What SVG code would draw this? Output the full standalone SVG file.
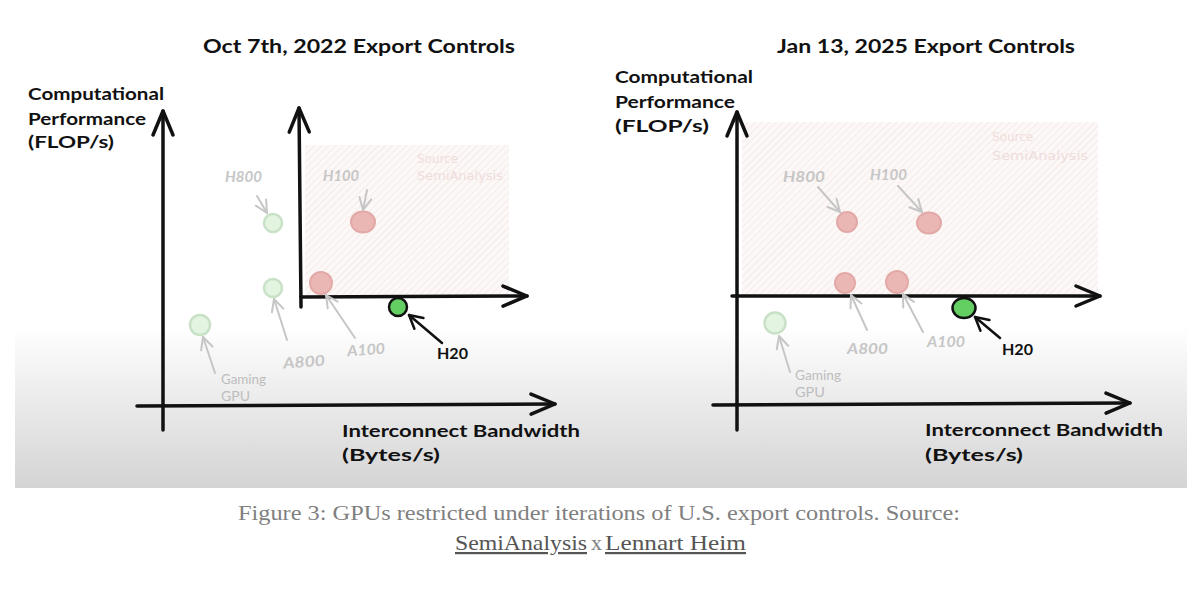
<svg xmlns="http://www.w3.org/2000/svg" width="1199" height="590" viewBox="0 0 1199 590">
  <defs>
    <linearGradient id="band" x1="0" y1="0" x2="0" y2="1">
      <stop offset="0" stop-color="#ffffff"/>
      <stop offset="0.12" stop-color="#f9f9f9"/>
      <stop offset="1" stop-color="#d4d4d4"/>
    </linearGradient>
    <pattern id="hatch" patternUnits="userSpaceOnUse" width="5" height="5" patternTransform="rotate(45)">
      <rect width="5" height="5" fill="#fcf8f7"/>
      <line x1="0" y1="0" x2="0" y2="5" stroke="#f3e8e6" stroke-width="1.6"/>
    </pattern>
    <marker id="axisHead" markerUnits="userSpaceOnUse" orient="auto" markerWidth="40" markerHeight="40" refX="0" refY="0" viewBox="-30 -20 40 40" overflow="visible">
      <path d="M -24 -10 L 0 0 L -24 10" fill="none" stroke="#111" stroke-width="3.5" stroke-linecap="round" stroke-linejoin="round"/>
    </marker>
    <marker id="grayHead" markerUnits="userSpaceOnUse" orient="auto" markerWidth="30" markerHeight="30" refX="0" refY="0" viewBox="-20 -15 30 30" overflow="visible">
      <path d="M -12 -6 L 0 0 L -12 6" fill="none" stroke="#c6c6c6" stroke-width="2" stroke-linecap="round" stroke-linejoin="round"/>
    </marker>
    <marker id="blackHead" markerUnits="userSpaceOnUse" orient="auto" markerWidth="30" markerHeight="30" refX="0" refY="0" viewBox="-20 -15 30 30" overflow="visible">
      <path d="M -13 -7 L 0 0 L -13 7" fill="none" stroke="#111" stroke-width="2.5" stroke-linecap="round" stroke-linejoin="round"/>
    </marker>
  </defs>
  <style>
    .hand { font-family: Lato, "Liberation Sans", sans-serif; font-weight: bold; fill: #111; }
    .title { font-size: 19px; }
    .axlab { font-size: 17px; }
    .glab { font-family: Lato, "Liberation Sans", sans-serif; font-style: italic; font-weight: bold; font-size: 15px; fill: #c6c6c6; }
    .small { font-family: Lato, "Liberation Sans", sans-serif; font-size: 13px; fill: #bdbdbd; }
    .src { font-family: "DejaVu Sans", sans-serif; font-size: 12px; fill: #efdddb; }
    .axis { stroke: #111; stroke-width: 3.5; stroke-linecap: round; fill: none; }
    .garrow { stroke: #c6c6c6; stroke-width: 2; fill: none; stroke-linecap: round; }
    .barrow { stroke: #111; stroke-width: 2.5; fill: none; stroke-linecap: round; }
    .red { fill: #ebb7b5; stroke: #e2a9a7; stroke-width: 2; }
    .green { fill: #e3f4e1; stroke: #c9e1c6; stroke-width: 2.5; }
    .h20 { fill: #63cf63; stroke: #111; stroke-width: 2.5; }
    .cap { font-family: "Liberation Serif", serif; font-size: 22px; fill: #808080; }
    .link { fill: #555; text-decoration: underline; }
  </style>

  <rect width="1199" height="590" fill="#ffffff"/>
  <rect x="15" y="328" width="1172" height="160" fill="url(#band)"/>

  <!-- regions -->
  <rect id="region-left" x="305" y="145" width="204" height="150" fill="url(#hatch)"/>
  <rect id="region-right" x="742" y="122" width="356" height="172" fill="url(#hatch)"/>

  <!-- titles & axis labels -->
  <g id="left-titles">
    <text class="hand title" x="203" y="53" textLength="312" lengthAdjust="spacingAndGlyphs">Oct 7th, 2022 Export Controls</text>
    <text class="hand axlab" x="28" y="100" textLength="136" lengthAdjust="spacingAndGlyphs">Computational</text>
    <text class="hand axlab" x="28" y="125" textLength="118" lengthAdjust="spacingAndGlyphs">Performance</text>
    <text class="hand axlab" x="28" y="148" textLength="86" lengthAdjust="spacingAndGlyphs">(FLOP/s)</text>
    <text class="hand axlab" x="342" y="437" textLength="238" lengthAdjust="spacingAndGlyphs">Interconnect Bandwidth</text>
    <text class="hand axlab" x="342" y="461" textLength="98" lengthAdjust="spacingAndGlyphs">(Bytes/s)</text>
    <text class="src" x="417" y="163">Source</text>
    <text class="src" x="417" y="180" textLength="86" lengthAdjust="spacingAndGlyphs">SemiAnalysis</text>
  </g>
  <g id="right-titles">
    <text class="hand title" x="777" y="53" textLength="298" lengthAdjust="spacingAndGlyphs">Jan 13, 2025 Export Controls</text>
    <text class="hand axlab" x="615" y="83" textLength="138" lengthAdjust="spacingAndGlyphs">Computational</text>
    <text class="hand axlab" x="615" y="108" textLength="120" lengthAdjust="spacingAndGlyphs">Performance</text>
    <text class="hand axlab" x="615" y="132" textLength="94" lengthAdjust="spacingAndGlyphs">(FLOP/s)</text>
    <text class="hand axlab" x="925" y="436" textLength="238" lengthAdjust="spacingAndGlyphs">Interconnect Bandwidth</text>
    <text class="hand axlab" x="925" y="461" textLength="98" lengthAdjust="spacingAndGlyphs">(Bytes/s)</text>
    <text class="src" x="992" y="141" font-size="13">Source</text>
    <text class="src" x="992" y="160" font-size="13" textLength="96" lengthAdjust="spacingAndGlyphs">SemiAnalysis</text>
  </g>

  <!-- axes -->
  <g id="axes">
    <line class="axis" x1="163" y1="430" x2="163" y2="111" marker-end="url(#axisHead)"/>
    <line class="axis" x1="137" y1="406" x2="555" y2="404" marker-end="url(#axisHead)"/>
    <line class="axis" x1="301" y1="307" x2="299" y2="108" marker-end="url(#axisHead)"/>
    <line class="axis" x1="301" y1="297" x2="527" y2="296" marker-end="url(#axisHead)"/>
    <line class="axis" x1="737" y1="430" x2="737" y2="112" marker-end="url(#axisHead)"/>
    <line class="axis" x1="713" y1="405" x2="1130" y2="403" marker-end="url(#axisHead)"/>
    <line class="axis" x1="732" y1="296" x2="1100" y2="296" marker-end="url(#axisHead)"/>
  </g>

  <!-- connectors (label arrows) -->
  <g id="connectors">
    <line class="garrow" x1="257" y1="196" x2="267" y2="213" marker-end="url(#grayHead)"/>
    <line class="garrow" x1="367" y1="190" x2="363" y2="210" marker-end="url(#grayHead)"/>
    <line class="garrow" x1="287" y1="340" x2="274" y2="299" marker-end="url(#grayHead)"/>
    <line class="garrow" x1="355" y1="338" x2="326" y2="295" marker-end="url(#grayHead)"/>
    <line class="garrow" x1="215" y1="373" x2="203" y2="337" marker-end="url(#grayHead)"/>
    <line class="barrow" x1="442" y1="343" x2="409" y2="315" marker-end="url(#blackHead)"/>

    <line class="garrow" x1="818" y1="187" x2="840" y2="212" marker-end="url(#grayHead)"/>
    <line class="garrow" x1="898" y1="186" x2="922" y2="212" marker-end="url(#grayHead)"/>
    <line class="garrow" x1="867" y1="330" x2="851" y2="295" marker-end="url(#grayHead)"/>
    <line class="garrow" x1="923" y1="332" x2="903" y2="294" marker-end="url(#grayHead)"/>
    <line class="garrow" x1="790" y1="372" x2="779" y2="336" marker-end="url(#grayHead)"/>
    <line class="barrow" x1="1000" y1="338" x2="975" y2="317" marker-end="url(#blackHead)"/>
  </g>

  <!-- left chart nodes -->
  <g id="l-h800"><circle class="green" cx="273" cy="223" r="9"/><text class="glab" x="225" y="182" textLength="37" lengthAdjust="spacingAndGlyphs">H800</text></g>
  <g id="l-h100"><ellipse class="red" cx="363" cy="222" rx="12" ry="10.5"/><text class="glab" x="323" y="181" textLength="36" lengthAdjust="spacingAndGlyphs">H100</text></g>
  <g id="l-a800"><circle class="green" cx="273" cy="288" r="9"/><text class="glab" x="283" y="367" textLength="42" lengthAdjust="spacingAndGlyphs" transform="rotate(-4 304 362)">A800</text></g>
  <g id="l-a100"><circle class="red" cx="321" cy="283" r="11"/><text class="glab" x="347" y="355" textLength="38" lengthAdjust="spacingAndGlyphs" transform="rotate(-4 366 350)">A100</text></g>
  <g id="l-gaming"><circle class="green" cx="200" cy="325" r="10"/><text class="small" x="221" y="384" textLength="45" lengthAdjust="spacingAndGlyphs">Gaming</text><text class="small" x="221" y="401" textLength="29" lengthAdjust="spacingAndGlyphs">GPU</text></g>
  <g id="l-h20"><circle class="h20" cx="398" cy="307" r="9"/><text class="hand" font-size="15" x="437" y="359" textLength="31" lengthAdjust="spacingAndGlyphs">H20</text></g>

  <!-- right chart nodes -->
  <g id="r-h800"><circle class="red" cx="847" cy="222" r="10"/><text class="glab" x="783" y="182" textLength="42" lengthAdjust="spacingAndGlyphs">H800</text></g>
  <g id="r-h100"><ellipse class="red" cx="929" cy="223" rx="12" ry="10.5"/><text class="glab" x="870" y="180" textLength="37" lengthAdjust="spacingAndGlyphs">H100</text></g>
  <g id="r-a800"><circle class="red" cx="845" cy="283" r="10"/><text class="glab" x="847" y="354" textLength="41" lengthAdjust="spacingAndGlyphs">A800</text></g>
  <g id="r-a100"><circle class="red" cx="897" cy="282" r="11"/><text class="glab" x="927" y="347" textLength="38" lengthAdjust="spacingAndGlyphs">A100</text></g>
  <g id="r-gaming"><circle class="green" cx="775" cy="323" r="10.5"/><text class="small" x="795" y="380" textLength="46" lengthAdjust="spacingAndGlyphs">Gaming</text><text class="small" x="795" y="397" textLength="30" lengthAdjust="spacingAndGlyphs">GPU</text></g>
  <g id="r-h20"><ellipse class="h20" cx="964" cy="308" rx="11.5" ry="10"/><text class="hand" font-size="15" x="1002" y="355" textLength="31" lengthAdjust="spacingAndGlyphs">H20</text></g>

  <!-- caption -->
  <g id="caption">
    <text class="cap" x="238" y="520" textLength="722" lengthAdjust="spacingAndGlyphs">Figure 3: GPUs restricted under iterations of U.S. export controls. Source:</text>
    <text class="cap link" x="455" y="550" textLength="132" lengthAdjust="spacingAndGlyphs">SemiAnalysis</text>
    <text class="cap" x="591" y="550">x</text>
    <text class="cap link" x="605" y="550" textLength="141" lengthAdjust="spacingAndGlyphs">Lennart Heim</text>
  </g>
</svg>
